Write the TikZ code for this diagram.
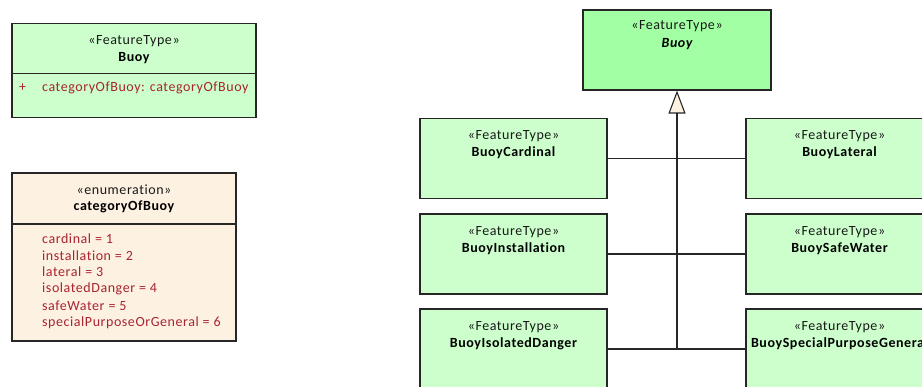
\documentclass[tikz,border=0pt]{standalone}
\usepackage{fontspec}
\setmainfont{Carlito}[LetterSpace=4, Ligatures=NoCommon]
\usetikzlibrary{arrows.meta,positioning}

\definecolor{featgreen}{RGB}{204,255,204}
\definecolor{rootgreen}{RGB}{163,255,163}
\definecolor{enumbeige}{RGB}{253,241,226}
\definecolor{attrred}{RGB}{168,36,48}

\tikzset{
  classbox/.style={draw=black!85, line width=1.1pt, fill=featgreen,
    minimum width=187pt, minimum height=80pt, inner sep=0pt},
  stereo/.style={font=\fontsize{14}{16}\selectfont, text=black!90, inner sep=0pt},
  cname/.style={font=\fontsize{14}{16}\selectfont\bfseries, text=black, inner sep=0pt},
  attr/.style={font=\fontsize{14}{16}\selectfont, text=attrred, inner sep=0pt, anchor=west},
  gen/.style={draw=black!85, line width=1.1pt}
}

\begin{document}
\begin{tikzpicture}[x=1pt, y=-1pt]
  \useasboundingbox (0,0) rectangle (922,387);
  \clip (0,0) rectangle (922,387);

  % Buoy class with its attribute
  \draw[classbox] (12,23.5) rectangle (256,117.5);
  \draw[gen] (12,73.5) -- (256,73.5);
  \node[stereo] (bst) at (134,41) {«FeatureType»};
  \node[cname] (bname) at (134,58) {Buoy};
  \node[attr] (battr) at (19,88) {+};
  \node[attr] (battr2) at (42,88) {categoryOfBuoy: categoryOfBuoy};

  % enumeration
  \draw[classbox, fill=enumbeige] (12,173) rectangle (236,341);
  \draw[gen] (12,224) -- (236,224);
  \node[stereo] (est) at (124,190) {«enumeration»};
  \node[cname] (ename) at (124,207) {categoryOfBuoy};
  \foreach \lit/\v [count=\i] in {cardinal/1, installation/2, lateral/3,
      isolatedDanger/4, safeWater/5, specialPurposeOrGeneral/6}
    \node[attr] at (42,238.5+16.8*\i-16.8) {\lit\;=\;\v};

  % abstract parent
  \node[classbox, fill=rootgreen, minimum width=188pt] (root) at (677,50) {};
  \node[stereo] at ([yshift=-17pt]root.north) {«FeatureType»};
  \node[cname, font=\fontsize{14}{16}\selectfont\bfseries\itshape] at ([yshift=-35pt]root.north) {Buoy};

  % specialisations
  \node[classbox] (cardinal) at (513.5,158.5) {};
  \node[classbox] (install) at (513.5,254) {};
  \node[classbox] (isolated) at (513.5,349) {};
  \node[classbox] (lateral) at (839.5,158.5) {};
  \node[classbox] (safe) at (839.5,254) {};
  \node[classbox] (special) at (839.5,349) {};
  \foreach \n/\t in {cardinal/BuoyCardinal, install/BuoyInstallation,
      isolated/BuoyIsolatedDanger, lateral/BuoyLateral, safe/BuoySafeWater,
      special/BuoySpecialPurposeGeneral} {
    \node[stereo] at ([yshift=-18.5pt]\n.north) {«FeatureType»};
    \node[cname] at ([yshift=-35pt]\n.north) {\t};
  }

  % generalisation tree
  \coordinate (trunk) at (isolated.east -| root.south);
  \draw[gen, -{Triangle[length=23pt, width=17pt, fill=enumbeige]}] (trunk) -- (root.south);
  \foreach \n in {cardinal, install, isolated}
    \draw[gen] (\n.east) -- (\n.east -| root.south);
  \foreach \n in {lateral, safe, special}
    \draw[gen] (\n.west) -- (\n.west -| root.south);
\end{tikzpicture}
\end{document}
